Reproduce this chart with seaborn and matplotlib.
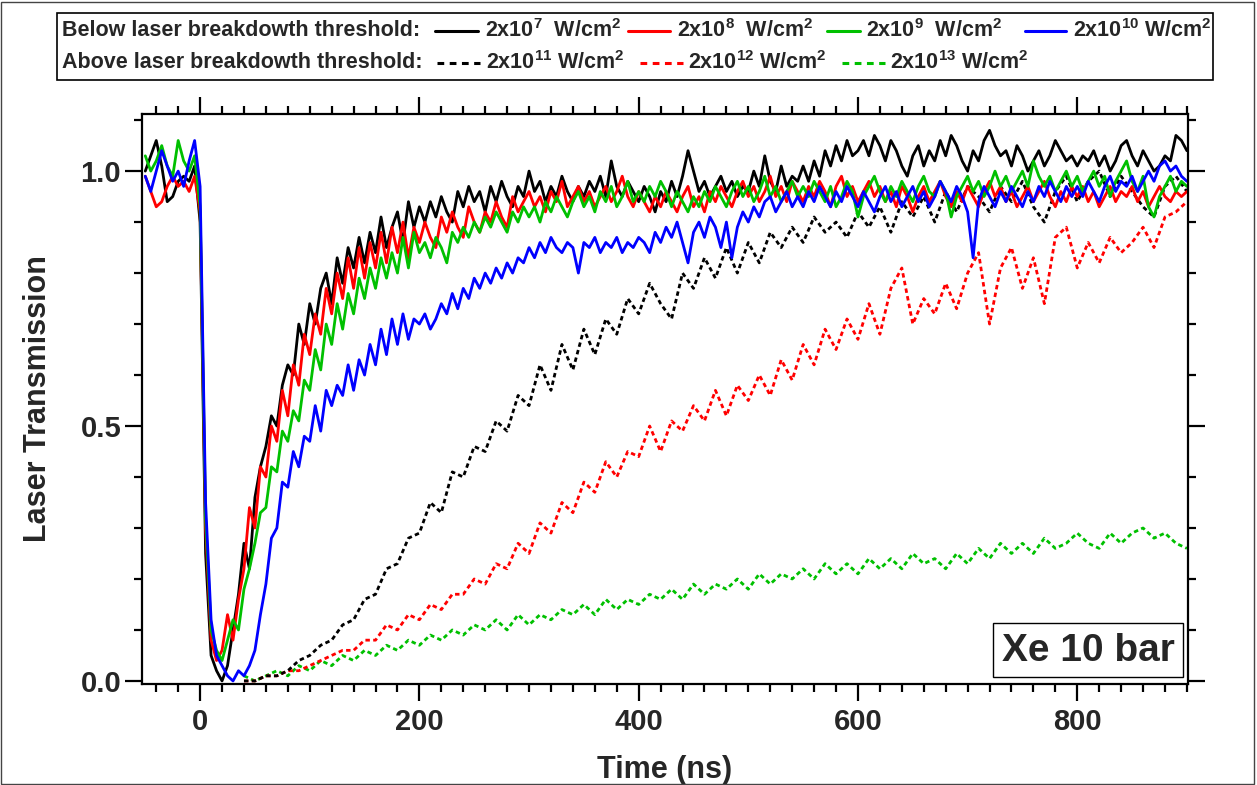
import numpy as np
import matplotlib
matplotlib.use("Agg")
import matplotlib.pyplot as plt
from matplotlib.lines import Line2D
from matplotlib.patches import Rectangle
from matplotlib.ticker import MultipleLocator, FormatStrFormatter
import seaborn as sns

sns.set_theme(style="ticks")
plt.rcParams["font.family"] = ["Liberation Sans", "DejaVu Sans"]
plt.rcParams["font.weight"] = "bold"
plt.rcParams["mathtext.fontset"] = "custom"
plt.rcParams["mathtext.rm"] = "Liberation Sans:bold"
plt.rcParams["mathtext.it"] = "Liberation Sans:bold"
plt.rcParams["mathtext.bf"] = "Liberation Sans:bold"
plt.rcParams["mathtext.default"] = "rm"

# ---- time bases (ns) ----
t_below = np.arange(-50, 905, 5)     # solid traces, 5 ns sampling
t_above = np.arange(40, 910, 10)     # dashed traces, 10 ns sampling

# ---- transmission below breakdown threshold ----
trans_2e7 = [
    1.00, 1.03, 1.06, 1.01, 0.94, 0.95, 0.98, 0.99, 0.98, 1.01,
    0.90, 0.25, 0.05, 0.02, 0.00, 0.03, 0.10, 0.17, 0.27, 0.22,
    0.36, 0.42, 0.46, 0.52, 0.50, 0.58, 0.62, 0.60, 0.70, 0.66,
    0.74, 0.70, 0.77, 0.80, 0.74, 0.83, 0.78, 0.85, 0.81, 0.87,
    0.82, 0.88, 0.84, 0.91, 0.85, 0.89, 0.92, 0.86, 0.94, 0.89,
    0.93, 0.90, 0.94, 0.91, 0.95, 0.92, 0.90, 0.96, 0.93, 0.97,
    0.94, 0.96, 0.92, 0.97, 0.94, 0.98, 0.95, 0.93, 0.97, 0.95,
    1.00, 0.96, 0.98, 0.94, 0.97, 0.95, 0.99, 0.96, 0.94, 0.97,
    0.95, 0.98, 0.96, 0.99, 0.95, 1.02, 0.97, 0.95, 0.98, 0.96,
    0.94, 0.97, 0.95, 0.92, 0.96, 0.94, 0.98, 0.95, 0.99, 1.04,
    1.00, 0.96, 0.98, 0.95, 0.97, 0.99, 0.96, 0.98, 0.95, 0.97,
    0.96, 1.00, 0.97, 1.03, 0.98, 0.96, 1.01, 0.97, 0.99, 0.98,
    1.01, 0.98, 1.02, 0.99, 1.04, 1.01, 1.05, 1.02, 1.06, 1.03,
    1.04, 1.06, 1.03, 1.07, 1.05, 1.02, 1.06, 1.04, 1.01, 0.99,
    1.03, 1.05, 1.01, 1.04, 1.02, 1.06, 1.03, 1.07, 1.05, 1.02,
    1.00, 1.04, 1.02, 1.06, 1.08, 1.05, 1.03, 1.04, 1.01, 1.05,
    1.03, 1.00, 1.02, 1.04, 1.01, 1.03, 1.06, 1.04, 1.02, 1.03,
    1.01, 1.03, 1.02, 1.04, 1.01, 1.03, 1.00, 1.02, 1.05, 1.06,
    1.03, 1.01, 1.04, 1.02, 1.00, 1.01, 1.03, 1.02, 1.07, 1.06,
    1.04,
]
trans_2e8 = [
    0.99, 0.96, 0.93, 0.94, 0.97, 0.99, 0.97, 0.98, 0.96, 0.99,
    0.92, 0.30, 0.08, 0.04, 0.06, 0.13, 0.08, 0.16, 0.22, 0.34,
    0.30, 0.42, 0.40, 0.50, 0.47, 0.57, 0.52, 0.62, 0.58, 0.68,
    0.64, 0.72, 0.68, 0.77, 0.72, 0.80, 0.75, 0.83, 0.77, 0.85,
    0.79, 0.86, 0.81, 0.88, 0.82, 0.89, 0.84, 0.90, 0.83, 0.89,
    0.86, 0.90, 0.87, 0.85, 0.91, 0.88, 0.92, 0.89, 0.87, 0.93,
    0.90, 0.88, 0.92, 0.90, 0.94, 0.91, 0.89, 0.95, 0.92, 0.94,
    0.96, 0.93, 0.95, 0.92, 0.96, 0.94, 0.98, 0.93, 0.95, 0.97,
    0.94, 0.96, 0.93, 0.95, 0.97, 0.94, 0.96, 0.99, 0.95, 0.93,
    0.96, 0.94, 0.92, 0.95, 0.93, 0.96, 0.94, 0.92, 0.95, 0.97,
    0.93, 0.95, 0.92, 0.96, 0.94, 0.97, 0.95, 0.93, 0.96, 0.98,
    0.95, 0.97, 0.94, 0.96, 0.99, 0.95, 0.97, 0.94, 0.98, 0.96,
    0.94, 0.97, 0.95, 0.98, 0.96, 0.93, 0.97, 0.99, 0.95, 0.97,
    0.94, 0.96, 0.98, 0.95, 0.97, 0.94, 0.96, 0.93, 0.97, 0.95,
    0.92, 0.95, 0.97, 0.94, 0.96, 0.98, 0.95, 0.93, 0.96, 0.94,
    0.97, 0.95, 0.93, 0.96, 0.98, 0.95, 0.97, 0.94, 0.96, 0.93,
    0.95, 0.97, 0.94, 0.96, 0.98, 0.95, 0.93, 0.96, 0.94, 0.97,
    0.95, 0.97, 0.94, 0.96, 0.93, 0.95, 0.97, 0.94, 0.96, 0.95,
    0.97, 0.94, 0.96, 0.93, 0.95, 0.97, 0.95, 0.94, 0.96, 0.95,
    0.96,
]
trans_2e9 = [
    1.03, 1.00, 1.02, 1.05, 1.01, 0.99, 1.06, 1.02, 1.00, 1.03,
    0.93, 0.32, 0.10, 0.06, 0.04, 0.08, 0.12, 0.10, 0.18, 0.22,
    0.27, 0.33, 0.34, 0.42, 0.41, 0.49, 0.47, 0.53, 0.51, 0.59,
    0.57, 0.65, 0.61, 0.70, 0.66, 0.74, 0.69, 0.76, 0.72, 0.79,
    0.75, 0.81, 0.77, 0.83, 0.79, 0.84, 0.80, 0.87, 0.81, 0.88,
    0.84, 0.86, 0.83, 0.87, 0.85, 0.82, 0.88, 0.86, 0.89, 0.87,
    0.90, 0.88, 0.91, 0.89, 0.92, 0.90, 0.88, 0.92, 0.90, 0.93,
    0.91, 0.93, 0.90, 0.94, 0.92, 0.95, 0.93, 0.91, 0.94, 0.96,
    0.93, 0.95, 0.92, 0.96, 0.94, 0.97, 0.93, 0.95, 0.98, 0.94,
    0.96, 0.94, 0.97, 0.95, 0.98, 0.96, 0.93, 0.96, 0.94, 0.92,
    0.95, 0.93, 0.96, 0.94, 0.97, 0.95, 0.93, 0.96, 0.98, 0.95,
    0.97, 0.94, 0.96, 0.99, 0.95, 0.97, 0.94, 0.96, 0.98, 0.95,
    0.97, 0.95, 0.98, 0.96, 0.94, 0.97, 0.93, 0.95, 0.98, 0.96,
    0.91, 0.95, 0.97, 0.99, 0.96, 0.94, 0.97, 0.95, 0.98, 0.96,
    0.94, 0.97, 0.99, 0.96, 0.95, 0.98, 0.96, 0.91, 0.95, 0.97,
    0.99, 0.96, 0.98, 0.95, 0.97, 1.00, 0.97, 0.99, 0.96, 0.98,
    1.00, 0.97, 1.02, 0.99, 0.97, 0.99, 0.96, 0.98, 1.00, 0.97,
    0.99, 0.96, 0.98, 1.00, 0.97, 0.99, 0.95, 0.98, 1.00, 1.02,
    0.98, 0.96, 0.99, 0.93, 0.91, 0.95, 0.97, 0.99, 0.96, 0.98,
    0.97,
]
trans_2e10 = [
    0.99, 0.96, 1.00, 1.04, 1.01, 0.98, 1.00, 0.97, 1.02, 1.06,
    0.97, 0.35, 0.12, 0.05, 0.03, 0.01, 0.00, 0.02, 0.01, 0.03,
    0.06, 0.13, 0.19, 0.28, 0.30, 0.39, 0.38, 0.45, 0.42, 0.48,
    0.47, 0.54, 0.49, 0.57, 0.54, 0.58, 0.56, 0.62, 0.57, 0.63,
    0.60, 0.66, 0.62, 0.69, 0.64, 0.71, 0.66, 0.72, 0.67, 0.71,
    0.70, 0.72, 0.69, 0.71, 0.74, 0.72, 0.76, 0.73, 0.77, 0.75,
    0.79, 0.77, 0.80, 0.78, 0.81, 0.79, 0.82, 0.80, 0.83, 0.82,
    0.85, 0.83, 0.86, 0.84, 0.87, 0.85, 0.84, 0.86, 0.85, 0.80,
    0.86, 0.85, 0.87, 0.84, 0.86, 0.85, 0.87, 0.84, 0.86, 0.85,
    0.87, 0.86, 0.84, 0.88, 0.86, 0.89, 0.87, 0.90, 0.86, 0.82,
    0.88, 0.90, 0.87, 0.91, 0.89, 0.85, 0.90, 0.83, 0.89, 0.92,
    0.90, 0.93, 0.91, 0.94, 0.95, 0.92, 0.94, 0.96, 0.93, 0.95,
    0.93, 0.96, 0.94, 0.97, 0.95, 0.93, 0.96, 0.94, 0.97, 0.95,
    0.93, 0.96, 0.94, 0.92, 0.95, 0.97, 0.94, 0.96, 0.93, 0.95,
    0.97, 0.94, 0.96, 0.93, 0.95, 0.98, 0.96, 0.94, 0.97, 0.95,
    0.92, 0.83, 0.94, 0.97, 0.95, 0.93, 0.96, 0.94, 0.97, 0.95,
    0.93, 0.96, 0.94, 0.97, 0.95, 0.98, 0.96, 0.94, 0.97, 0.95,
    0.97, 0.95, 0.98, 0.96, 0.94, 0.97, 0.99, 0.96, 0.98, 0.97,
    0.99, 0.96, 0.98, 1.00, 0.98, 1.01, 1.02, 1.00, 1.01, 0.99,
    0.98,
]

# ---- transmission above breakdown threshold ----
trans_2e11 = [
    0.00, 0.00, 0.01, 0.01, 0.02, 0.04, 0.05, 0.07, 0.08, 0.11,
    0.12, 0.16, 0.17, 0.22, 0.23, 0.28, 0.29, 0.35, 0.33, 0.41,
    0.40, 0.46, 0.45, 0.51, 0.49, 0.56, 0.54, 0.62, 0.57, 0.66,
    0.61, 0.69, 0.64, 0.71, 0.68, 0.75, 0.72, 0.78, 0.74, 0.71,
    0.80, 0.77, 0.83, 0.79, 0.85, 0.80, 0.86, 0.82, 0.88, 0.85,
    0.89, 0.86, 0.91, 0.88, 0.90, 0.87, 0.92, 0.89, 0.93, 0.88,
    0.94, 0.91, 0.95, 0.90, 0.96, 0.92, 0.97, 0.95, 0.92, 0.97,
    0.94, 0.98, 0.93, 0.90, 0.96, 0.99, 0.94, 0.98, 1.00, 0.95,
    0.99, 0.96, 0.93, 0.91, 0.97, 0.99, 0.96,
]
trans_2e12 = [
    0.00, 0.00, 0.01, 0.01, 0.02, 0.02, 0.03, 0.04, 0.05, 0.06,
    0.06, 0.08, 0.08, 0.11, 0.10, 0.13, 0.12, 0.15, 0.14, 0.17,
    0.17, 0.20, 0.19, 0.23, 0.22, 0.27, 0.25, 0.31, 0.29, 0.35,
    0.33, 0.39, 0.37, 0.43, 0.40, 0.45, 0.44, 0.50, 0.45, 0.51,
    0.49, 0.54, 0.51, 0.57, 0.52, 0.58, 0.55, 0.60, 0.56, 0.63,
    0.59, 0.66, 0.62, 0.69, 0.65, 0.71, 0.67, 0.74, 0.68, 0.77,
    0.81, 0.70, 0.75, 0.72, 0.78, 0.73, 0.80, 0.84, 0.70, 0.81,
    0.85, 0.77, 0.83, 0.74, 0.87, 0.89, 0.81, 0.86, 0.82, 0.87,
    0.84, 0.86, 0.89, 0.85, 0.91, 0.92, 0.94,
]
trans_2e13 = [
    0.01, 0.00, 0.01, 0.02, 0.01, 0.03, 0.02, 0.04, 0.03, 0.05,
    0.04, 0.06, 0.05, 0.07, 0.06, 0.08, 0.07, 0.09, 0.08, 0.10,
    0.09, 0.11, 0.10, 0.12, 0.10, 0.13, 0.11, 0.13, 0.12, 0.14,
    0.13, 0.15, 0.13, 0.16, 0.14, 0.16, 0.15, 0.17, 0.16, 0.18,
    0.16, 0.19, 0.17, 0.19, 0.18, 0.20, 0.18, 0.21, 0.19, 0.21,
    0.20, 0.22, 0.20, 0.23, 0.21, 0.23, 0.21, 0.24, 0.22, 0.24,
    0.22, 0.25, 0.23, 0.24, 0.22, 0.25, 0.23, 0.26, 0.24, 0.27,
    0.25, 0.27, 0.25, 0.28, 0.26, 0.27, 0.29, 0.27, 0.26, 0.29,
    0.27, 0.29, 0.30, 0.28, 0.29, 0.27, 0.26,
]

exponents_below = ["7", "8", "9", "10"]
exponents_above = ["11", "12", "13"]
colors = ["#000000", "#ff0000", "#00c000", "#0000ff"]

W, H = 1257, 785
fig = plt.figure(figsize=(W / 100, H / 100), dpi=100)
ax = fig.add_axes([142 / W, 1 - 684 / H, (1188 - 142) / W, (684 - 114) / H])

# dashed traces first, solid traces drawn over them
dash_data = (0, (1.6, 1.2))
above = [trans_2e13, trans_2e12, trans_2e11]
above_colors = [colors[2], colors[1], colors[0]]
for y, c in zip(above, above_colors):
    sns.lineplot(x=t_above, y=y, color=c, linewidth=2.0, linestyle=dash_data,
                 estimator=None, ax=ax, legend=False)

for y, c in zip([trans_2e7, trans_2e8, trans_2e9, trans_2e10], colors):
    sns.lineplot(x=t_below, y=y, color=c, linewidth=2.0, estimator=None,
                 ax=ax, legend=False)

ax.set_xlim(-53, 901)
ax.set_ylim(-0.006, 1.112)
ax.xaxis.set_major_locator(MultipleLocator(200))
ax.xaxis.set_minor_locator(MultipleLocator(20))
ax.yaxis.set_major_locator(MultipleLocator(0.5))
ax.yaxis.set_minor_locator(MultipleLocator(0.1))
ax.yaxis.set_major_formatter(FormatStrFormatter("%.1f"))
ax.tick_params(which="both", direction="out", top=True, right=True,
               width=1.6, color="black", labelsize=21)
ax.tick_params(which="major", length=12)
ax.tick_params(which="minor", length=6)
ax.tick_params(axis="x", pad=5)
ax.tick_params(axis="y", pad=3)
for lab in ax.get_xticklabels() + ax.get_yticklabels():
    lab.set_fontweight("bold")
for sp in ax.spines.values():
    sp.set_linewidth(1.6)
    sp.set_color("black")

ax.set_xlabel("Time (ns)", fontsize=22, fontweight="bold", labelpad=14)
ax.set_ylabel("Laser Transmission", fontsize=22, fontweight="bold", labelpad=20)

# annotation box
fig.add_artist(Rectangle((993 / W, 1 - 677 / H), 190 / W, 54 / H,
                         transform=fig.transFigure, facecolor="white",
                         edgecolor="black", linewidth=1.0, zorder=3))
fig.text(1088 / W, 1 - 651 / H, "Xe 10 bar", ha="center", va="center",
         fontsize=28, fontweight="bold", zorder=4)

# legend panel
fig.add_artist(Rectangle((57 / W, 1 - 80 / H), (1213 - 57) / W, 67 / H,
                         transform=fig.transFigure, fill=False,
                         edgecolor="black", linewidth=1.2))
fs = 15.5
row1, row2 = 1 - 31 / H, 1 - 63 / H
fig.text(62 / W, row1, "Below laser breakdowth threshold:", va="center",
         fontsize=fs, fontweight="bold")
fig.text(62 / W, row2, "Above laser breakdowth threshold:", va="center",
         fontsize=fs, fontweight="bold")

below_pos = [(435, 478, 485), (628, 670, 677), (827, 860, 866), (1025, 1066, 1073)]
below_gap = ["  ", "  ", "  ", " "]
for (x1, x2, xt), e, c, g in zip(below_pos, exponents_below, colors, below_gap):
    fig.add_artist(Line2D([x1 / W, x2 / W], [row1, row1], transform=fig.transFigure,
                          color=c, linewidth=2.2))
    fig.text(xt / W, row1, "2x10$^{%s}$%sW/cm$^{2}$" % (e, g), va="center",
             fontsize=fs, fontweight="bold")

above_pos = [(437, 480, 486), (640, 683, 688), (842, 885, 890)]
for (x1, x2, xt), e, c in zip(above_pos, exponents_above, colors[:3]):
    fig.add_artist(Line2D([x1 / W, x2 / W], [row2, row2], transform=fig.transFigure,
                          color=c, linewidth=2.2, linestyle=(0, (2.2, 1.8))))
    fig.text(xt / W, row2, "2x10$^{%s}$ W/cm$^{2}$" % e, va="center",
             fontsize=fs, fontweight="bold")

# outer frame
fig.add_artist(Rectangle((0.001, 0.001), 0.997, 0.997, transform=fig.transFigure,
                         fill=False, edgecolor="#444444", linewidth=1.0))

fig.savefig("out.png", dpi=100)
